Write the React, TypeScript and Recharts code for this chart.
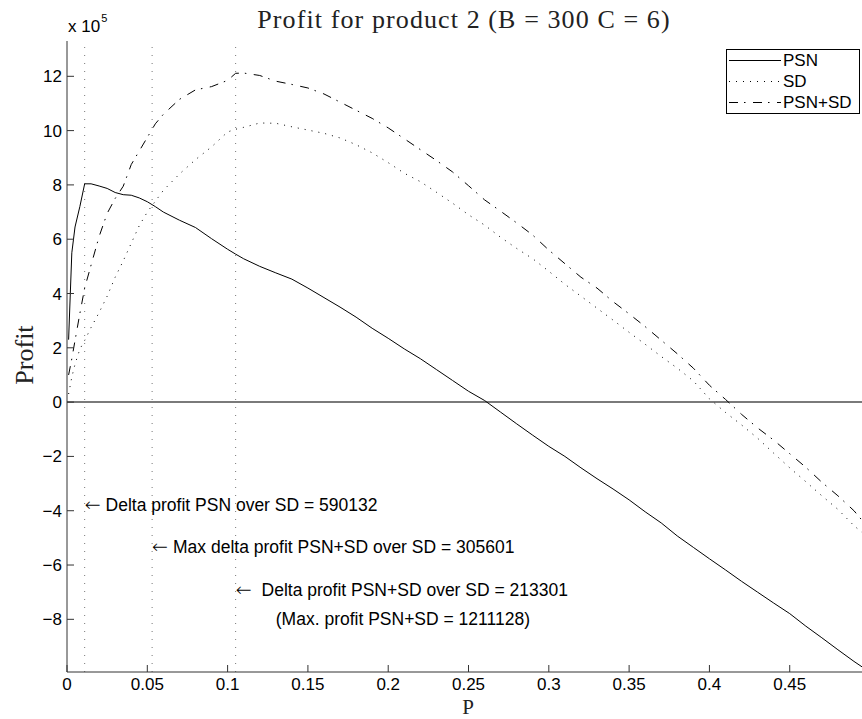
import React from 'react';
import { LineChart, Line, XAxis, YAxis, ReferenceLine, ReferenceDot, Legend, Customized } from 'recharts';

// P values (x) and profits in units of 1e5
const pValues = [
  0.001, 0.003, 0.005, 0.008, 0.011, 0.015, 0.02, 0.025, 0.03, 0.035, 0.04, 0.045, 0.05, 0.055, 0.06,
  0.07, 0.08, 0.09, 0.1, 0.105, 0.11, 0.12, 0.13, 0.14, 0.15, 0.16, 0.17, 0.18, 0.19, 0.2,
  0.21, 0.22, 0.23, 0.24, 0.25, 0.26, 0.27, 0.28, 0.29, 0.3, 0.31, 0.32, 0.33, 0.34, 0.35,
  0.36, 0.37, 0.38, 0.39, 0.4, 0.41, 0.42, 0.43, 0.44, 0.45, 0.46, 0.47, 0.48, 0.49, 0.495,
];
const psnProfit = [
  2.3, 5.5, 6.45, 7.2, 8.04, 8.04, 7.96, 7.87, 7.72, 7.64, 7.62, 7.52, 7.38, 7.2, 7.0,
  6.7, 6.43, 6.02, 5.63, 5.45, 5.28, 5.0, 4.76, 4.53, 4.2, 3.85, 3.5, 3.13, 2.72, 2.35,
  1.96, 1.6, 1.2, 0.8, 0.4, 0.06, -0.37, -0.8, -1.22, -1.63, -2.0, -2.42, -2.82, -3.2, -3.6,
  -4.04, -4.45, -4.93, -5.35, -5.77, -6.18, -6.6, -7.0, -7.4, -7.79, -8.25, -8.68, -9.12, -9.55, -9.75,
];
const sdProfit = [
  0.3, 0.92, 1.4, 1.95, 2.27, 2.75, 3.3, 3.9, 4.6, 5.2, 5.85, 6.5, 7.0, 7.4, 7.8,
  8.4, 8.93, 9.4, 9.95, 10.05, 10.12, 10.28, 10.27, 10.14, 10.02, 9.9, 9.73, 9.48, 9.18, 8.82,
  8.43, 8.12, 7.73, 7.33, 6.9, 6.52, 6.07, 5.66, 5.28, 4.82, 4.34, 3.9, 3.46, 3.02, 2.57,
  2.13, 1.68, 1.25, 0.78, 0.12, -0.38, -0.84, -1.33, -1.88, -2.42, -2.93, -3.45, -3.95, -4.55, -4.8,
];
const psnSdProfit = [
  1.0, 1.6, 2.27, 3.26, 4.2, 5.05, 6.1, 6.95, 7.5, 7.95, 8.75, 9.25, 9.75, 10.25, 10.6,
  11.15, 11.5, 11.62, 11.85, 12.11, 12.12, 12.03, 11.82, 11.7, 11.57, 11.35, 11.05, 10.75, 10.45, 10.1,
  9.7, 9.3, 8.9, 8.48, 7.97, 7.45, 7.03, 6.6, 6.15, 5.6, 5.1, 4.6, 4.2, 3.7, 3.25,
  2.78, 2.28, 1.78, 1.25, 0.62, 0.1, -0.45, -0.95, -1.4, -1.9, -2.4, -2.95, -3.45, -4.0, -4.35,
];

const xTicks = [0, 0.05, 0.1, 0.15, 0.2, 0.25, 0.3, 0.35, 0.4, 0.45];
const yTicks = [-8, -6, -4, -2, 0, 2, 4, 6, 8, 10, 12];
const markerP = [0.011, 0.053, 0.105];

const notes = [
  { p: 0.011, y: -3.8, arrow: true, gap: 5, text: 'Delta profit PSN over SD = 590132' },
  { p: 0.053, y: -5.34, arrow: true, gap: 5, text: 'Max delta profit PSN+SD over SD = 305601' },
  { p: 0.105, y: -6.91, arrow: true, gap: 10, text: 'Delta profit PSN+SD over SD = 213301' },
  { p: 0.13, y: -7.97, arrow: false, gap: 0, text: '(Max. profit PSN+SD = 1211128)' },
];

const series = [
  { key: 'psn', name: 'PSN', dash: undefined as string | undefined },
  { key: 'sd', name: 'SD', dash: '1 6' },
  { key: 'psnsd', name: 'PSN+SD', dash: '9 6 1.5 7.5' },
];

const data = pValues.map((p, i) => ({ p, psn: psnProfit[i], sd: sdProfit[i], psnsd: psnSdProfit[i] }));

const sans = '"Liberation Sans", Arial, Helvetica, sans-serif';
const serif = '"Liberation Serif", "Times New Roman", serif';

const LegendBox = () => (
  <div style={{ border: '1px solid #000', background: '#fff', width: 132, fontFamily: sans, fontSize: 17 }}>
    {series.map((s) => (
      <div key={s.key} style={{ display: 'flex', alignItems: 'center', height: 21 }}>
        <svg width={56} height={21} style={{ display: 'block' }}>
          <line x1={2} x2={54} y1={10.5} y2={10.5} stroke="#000" strokeWidth={1} strokeDasharray={s.dash} />
        </svg>
        <span>{s.name}</span>
      </div>
    ))}
  </div>
);

const Decorations = () => (
  <g>
    <text x={464} y={28} textAnchor="middle" fontFamily={serif} fontSize={26} letterSpacing={1.1} fill="#222">
      Profit for product 2 (B = 300 C = 6)
    </text>
    <text x={68} y={32} fontFamily={sans} fontSize={17} fill="#000">
      x 10<tspan dx={1} dy={-10} fontSize={11}>5</tspan>
    </text>
    <text x={468} y={714} textAnchor="middle" fontFamily={serif} fontSize={21} fill="#222">P</text>
    <text x={33} y={355} textAnchor="middle" fontFamily={serif} fontSize={26} fill="#222" transform="rotate(-90 33 355)">
      Profit
    </text>
  </g>
);

const formatY = (v: number) => (v < 0 ? '\u2212' + Math.abs(v) : String(v));

export default function App() {
  return (
    <div style={{ position: 'absolute', left: 0, top: 0, width: 862, height: 719, background: '#fff' }}>
      <LineChart width={862} height={719} data={data} margin={{ top: 41, right: 0, bottom: 0, left: 0 }}>
        <XAxis
          type="number"
          dataKey="p"
          domain={[0, 0.495]}
          ticks={xTicks}
          interval={0}
          allowDataOverflow
          height={47}
          tickSize={-7}
          tickMargin={13}
          tickFormatter={(v: number) => String(v)}
          tick={{ fontSize: 17, fill: '#000', fontFamily: sans }}
          axisLine={{ stroke: '#333' }}
          tickLine={{ stroke: '#333' }}
        />
        <YAxis
          type="number"
          domain={[-9.94, 13.3]}
          ticks={yTicks}
          interval={0}
          allowDataOverflow
          width={67}
          tickSize={-7}
          tickMargin={12}
          tickFormatter={formatY}
          tick={{ fontSize: 17, fill: '#000', fontFamily: sans }}
          axisLine={{ stroke: '#333' }}
          tickLine={{ stroke: '#333' }}
        />
        {markerP.map((p) => (
          <ReferenceLine key={p} x={p} stroke="#777" strokeWidth={1} strokeDasharray="1 7" />
        ))}
        <ReferenceLine y={0} stroke="#7a7a7a" strokeWidth={2} />
        {series.map((s) => (
          <Line
            key={s.key}
            type="linear"
            dataKey={s.key}
            name={s.name}
            stroke="#000"
            strokeWidth={1}
            strokeDasharray={s.dash}
            dot={false}
            activeDot={false}
            isAnimationActive={false}
          />
        ))}
        {notes.map((n) => (
          <ReferenceDot
            key={n.text}
            x={n.p}
            y={n.y}
            r={0}
            ifOverflow="visible"
            shape={(props: any) => (
              <text x={props.cx} y={props.cy} dy="0.35em" fontFamily={sans} fontSize={17.5} fill="#000">
                {n.arrow ? (
                  <tspan fontFamily='"DejaVu Sans", sans-serif' fontSize={19} fontWeight={300}>
                    {'\u2190'}
                  </tspan>
                ) : null}
                <tspan dx={n.gap}>{n.text}</tspan>
              </text>
            )}
          />
        ))}
        <Customized component={<Decorations />} />
        <Legend
          layout="vertical"
          align="center"
          verticalAlign="middle"
          content={<LegendBox />}
          wrapperStyle={{ left: 726, top: 49, width: 134 }}
        />
      </LineChart>
    </div>
  );
}
